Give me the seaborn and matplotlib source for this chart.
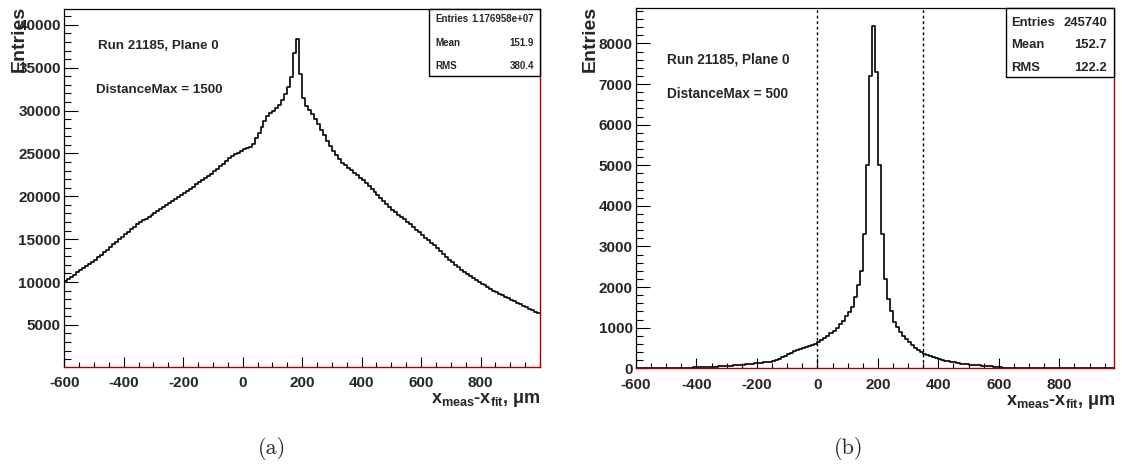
import numpy as np
import pandas as pd
import matplotlib
matplotlib.use("Agg")
import matplotlib.pyplot as plt
from matplotlib.patches import Rectangle
from matplotlib.ticker import MultipleLocator
import seaborn as sns

# ---------------- data ----------------
bin_width = 10
x_start = -600
x_stop = 1000

# Panel (a): DistanceMax = 1500, counts per 10 um bin (bin centres -595 ... 995)
counts_a = [
    10100, 10350, 10600, 10860, 11120, 11380, 11620, 11850, 12090, 12320,
    12560, 12870, 13170, 13480, 13790, 14090, 14390, 14690, 14980, 15280,
    15580, 15880, 16170, 16460, 16760, 16990, 17200, 17410, 17620, 17830,
    18030, 18260, 18490, 18720, 18950, 19180, 19410, 19640, 19870, 20100,
    20350, 20610, 20870, 21130, 21390, 21630, 21880, 22120, 22370, 22610,
    22900, 23210, 23520, 23830, 24140, 24450, 24670, 24890, 25110, 25330,
    25480, 25620, 25760, 26100, 26780, 27430, 28080, 28730, 29380, 29700,
    29990, 30290, 30600, 31280, 31960, 32700, 33900, 36700, 38300, 34300,
    31500, 30500, 30050, 29600, 29050, 28420, 27760, 27130, 26500, 25880,
    25330, 24780, 24300, 23920, 23620, 23320, 23090, 22780, 22470, 22150,
    21850, 21520, 21180, 20850, 20520, 20160, 19820, 19470, 19120, 18770,
    18420, 18130, 17850, 17570, 17300, 17020, 16740, 16420, 16110, 15790,
    15480, 15190, 14890, 14600, 14300, 14000, 13650, 13290, 12940, 12580,
    12290, 12010, 11740, 11460, 11180, 10920, 10700, 10480, 10260, 10050,
    9830, 9610, 9400, 9180, 8970, 8790, 8620, 8450, 8280, 8110,
    7950, 7770, 7590, 7420, 7240, 7060, 6890, 6710, 6530, 6350,
]

# Panel (b): DistanceMax = 500
counts_b = [
    2, 2, 3, 3, 4, 4, 5, 6, 7, 8,
    9, 10, 11, 12, 13, 14, 15, 17, 18, 20,
    22, 25, 28, 31, 35, 39, 43, 47, 52, 57,
    62, 67, 73, 79, 85, 92, 99, 107, 115, 123,
    130, 138, 146, 154, 162, 180, 205, 235, 270, 310,
    350, 385, 415, 445, 480, 505, 530, 555, 580, 605,
    640, 690, 745, 800, 860, 915, 985, 1080, 1170, 1280,
    1390, 1520, 1760, 2040, 2400, 3300, 5000, 7200, 8440, 7300,
    5000, 3300, 2200, 1700, 1400, 1140, 1010, 890, 790, 710,
    640, 570, 505, 455, 405, 360, 330, 300, 275, 250,
    225, 205, 190, 175, 160, 145, 130, 118, 106, 98,
    91, 84, 77, 71, 65, 60, 54, 47, 39, 32,
    25, 18, 15, 13, 11, 10, 9, 8, 7, 6,
    6, 5, 5, 4, 4, 4, 3, 3, 3, 3,
    2, 2, 2, 2, 2, 2, 2, 2, 2, 2,
    2, 2, 1, 1, 1, 1, 1, 1, 1, 1,
]

cut_lines_b = [0, 350]
x_tick_labels = ["-600", "-400", "-200", "0", "200", "400", "600", "800"]

stats_a = [("Entries", "1.176958e+07"), ("Mean", "151.9"), ("RMS", "380.4")]
stats_b = [("Entries", "245740"), ("Mean", "152.7"), ("RMS", "122.2")]

run_label = "Run 21185, Plane 0"
dist_a = "DistanceMax = 1500"
dist_b = "DistanceMax = 500"
captions = ["(a)", "(b)"]
xlabel = r"x$_{\mathbf{meas}}$-x$_{\mathbf{fit}}$, μm"
ylabel = "Entries"

edges = [float(e) for e in np.arange(x_start, x_stop + bin_width, bin_width)]
centers = [e + bin_width / 2 for e in edges[:-1]]
assert len(counts_a) == len(centers) and len(counts_b) == len(centers)

# ---------------- style ----------------
sns.set_theme(style="white")
plt.rcParams["font.family"] = ["Liberation Sans", "DejaVu Sans"]
plt.rcParams["mathtext.fontset"] = "custom"
plt.rcParams["mathtext.rm"] = "Liberation Sans"
plt.rcParams["mathtext.bf"] = "Liberation Sans:bold"
plt.rcParams["mathtext.it"] = "Liberation Sans:italic"

W, H = 1122, 466
fig = plt.figure(figsize=(W / 100, H / 100), dpi=100)
fig.patch.set_facecolor("white")


def fx(px):
    return px / W


def fy(py):
    return 1 - py / H


def axes_box(x0, y0, x1, y1):
    return [fx(x0), fy(y1), fx(x1) - fx(x0), fy(y0) - fy(y1)]


RED = "#a80000"
ax_a = fig.add_axes(axes_box(64.3, 8.6, 540, 366.5))
ax_b = fig.add_axes(axes_box(636, 8, 1114.3, 368.3))

for ax, counts in ((ax_a, counts_a), (ax_b, counts_b)):
    df = pd.DataFrame({"x": centers, "w": counts})
    sns.histplot(data=df, x="x", weights="w", bins=edges, element="step",
                 fill=False, color="black", linewidth=1.2, ax=ax)
    ax.set_xlabel("")
    ax.set_ylabel("")
    for s in ("top", "left"):
        ax.spines[s].set_color("black")
        ax.spines[s].set_linewidth(0.9)
    for s in ("bottom", "right"):
        ax.spines[s].set_color(RED)
        ax.spines[s].set_linewidth(1.0)
    ax.xaxis.set_minor_locator(MultipleLocator(50))
    ax.tick_params(axis="both", which="both", direction="in", top=False,
                   right=False, bottom=True, left=True, color="black",
                   width=0.8, labelsize=11)
    ax.tick_params(axis="x", which="major", length=7.5, pad=7)
    ax.tick_params(axis="x", which="minor", length=3.6)
    ax.tick_params(axis="y", which="major", length=10, pad=2.5)
    ax.tick_params(axis="y", which="minor", length=5)
    ax.set_facecolor("white")

ax_a.set_xlim(-600, 1000)
ax_a.set_ylim(150, 41900)
ax_a.yaxis.set_major_locator(MultipleLocator(5000))
ax_a.yaxis.set_minor_locator(MultipleLocator(1000))

ax_b.set_xlim(-600, 982)
ax_b.set_ylim(0, 8874)
ax_b.yaxis.set_major_locator(MultipleLocator(1000))
ax_b.yaxis.set_minor_locator(MultipleLocator(200))
for xv in cut_lines_b:
    ax_b.axvline(xv, color="black", linestyle=(0, (2, 2)), linewidth=1.0)

for ax in (ax_a, ax_b):
    ax.set_xticks([float(t) for t in x_tick_labels])
    ax.set_xticklabels(x_tick_labels, fontweight="bold")
    lo, hi = ax.get_ylim()
    yt = [t for t in ax.get_yticks() if lo <= t <= hi]
    ax.set_yticks(yt)
    ax.set_yticklabels([f"{int(t)}" for t in yt], fontweight="bold")
ax_a.set_xlim(-600, 1000)
ax_b.set_xlim(-600, 982)

# in-plot texts
fig.text(fx(98), fy(46), run_label, fontsize=9.6, fontweight="bold", va="center", ha="left")
fig.text(fx(96), fy(90), dist_a, fontsize=9.6, fontweight="bold", va="center", ha="left")
fig.text(fx(667), fy(59), run_label, fontsize=9.8, fontweight="bold", va="center", ha="left")
fig.text(fx(667), fy(94), dist_b, fontsize=9.8, fontweight="bold", va="center", ha="left")


# stat boxes
def stat_box(x0, y0, x1, y1, rows, row_y, tx0, tx1, size):
    fig.add_artist(Rectangle((fx(x0), fy(y1)), fx(x1) - fx(x0), fy(y0) - fy(y1),
                             transform=fig.transFigure, facecolor="white",
                             edgecolor="black", linewidth=1.0, zorder=5))
    for (k, v), yy in zip(rows, row_y):
        fig.text(fx(tx0), fy(yy), k, fontsize=size, fontweight="bold",
                 ha="left", va="center", zorder=6)
        fig.text(fx(tx1), fy(yy), v, fontsize=size, fontweight="bold",
                 ha="right", va="center", zorder=6)


stat_box(429, 8.6, 540, 76, stats_a, [19, 43, 66], 435, 534, 7.0)
stat_box(1005.7, 8, 1114.3, 77.3, stats_b, [22.7, 45, 68.3], 1011, 1107, 9.4)

# axis titles
fig.text(fx(19.6), fy(6), ylabel, rotation=90, fontsize=14, fontweight="bold",
         ha="center", va="top")
fig.text(fx(590.5), fy(6), ylabel, rotation=90, fontsize=14, fontweight="bold",
         ha="center", va="top")
fig.text(fx(540), fy(400), xlabel, fontsize=13, fontweight="bold", ha="right", va="center")
fig.text(fx(1115), fy(402), xlabel, fontsize=13, fontweight="bold", ha="right", va="center")

# captions
fig.text(fx(272), fy(448), captions[0], fontsize=16, family="cmr10", ha="center", va="center")
fig.text(fx(849), fy(448), captions[1], fontsize=16, family="cmr10", ha="center", va="center")

fig.savefig("out.png", dpi=100, facecolor="white")
